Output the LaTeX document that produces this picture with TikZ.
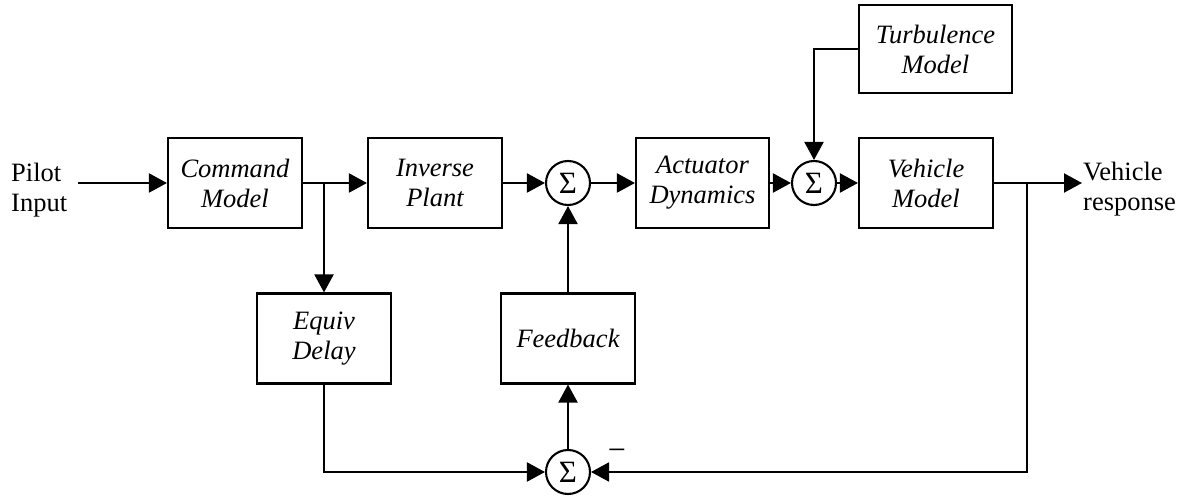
\documentclass[tikz,border=0pt]{standalone}
\usepackage{fontspec}
\setmainfont{Liberation Serif}
\usetikzlibrary{arrows.meta}
\begin{document}
\begin{tikzpicture}[x=1bp,y=-1bp,
  blk/.style={draw, line width=2.1bp, minimum width=134bp, minimum height=90bp, inner sep=0pt, align=center, font=\fontsize{26.5bp}{30bp}\selectfont\itshape},
  sumnode/.style={draw, circle, line width=2.1bp, minimum size=44bp, inner sep=0pt, font=\fontsize{31bp}{30bp}\selectfont},
  lbl/.style={inner sep=0pt, align=left, font=\fontsize{26.5bp}{30bp}\selectfont},
  conn/.style={line width=2.1bp, -{Triangle[length=18bp,width=19bp]}},
  wire/.style={line width=2.1bp}]
\useasboundingbox (0,0) rectangle (1182,498);
\node[blk] (cmd) at (235,183) {Command\\Model};
\node[blk] (inv) at (435,183) {Inverse\\Plant};
\node[sumnode] (s1) at (568,183) {Σ};
\node[blk, minimum width=133bp] (act) at (702.5,183) {Actuator\\Dynamics};
\node[sumnode] (s2) at (814,183) {Σ};
\node[blk] (veh) at (926,183) {Vehicle\\Model};
\node[blk, minimum width=153bp, minimum height=88bp] (turb) at (935.5,49) {Turbulence\\Model};
\node[blk] (eqd) at (324,338.5) {Equiv\\Delay};
\node[blk] (fb) at (568,338.5) {Feedback};
\node[sumnode] (s3) at (568,472) {Σ};
\node[lbl, anchor=west] (pil) at (11,190) {Pilot\\Input};
\node[lbl, anchor=west] (vr) at (1083,189) {Vehicle\\response};
\node[inner sep=0pt, font=\fontsize{32bp}{30bp}\selectfont] (minus) at (617,455) {−};
\coordinate (pin) at (78,183);
\coordinate (b1) at (324,183);
\coordinate (b2) at (1027,183);
\coordinate (out) at (1082,183);
\draw[conn] (pin) -- (cmd.west);
\draw[conn] (cmd.east) -- (inv.west);
\draw[conn] (b1) -- (eqd.north);
\draw[conn] (inv.east) -- (s1.west);
\draw[conn] (s1.east) -- (act.west);
\draw[conn] (act.east) -- (s2.west);
\draw[conn] (s2.east) -- (veh.west);
\draw[conn] (turb.west) -| (s2.north);
\draw[conn] (veh.east) -- (out);
\draw[conn] (b2) |- (s3.east);
\draw[conn] (eqd.south) |- (s3.west);
\draw[conn] (s3.north) -- (fb.south);
\draw[conn] (fb.north) -- (s1.south);
\end{tikzpicture}
\end{document}
